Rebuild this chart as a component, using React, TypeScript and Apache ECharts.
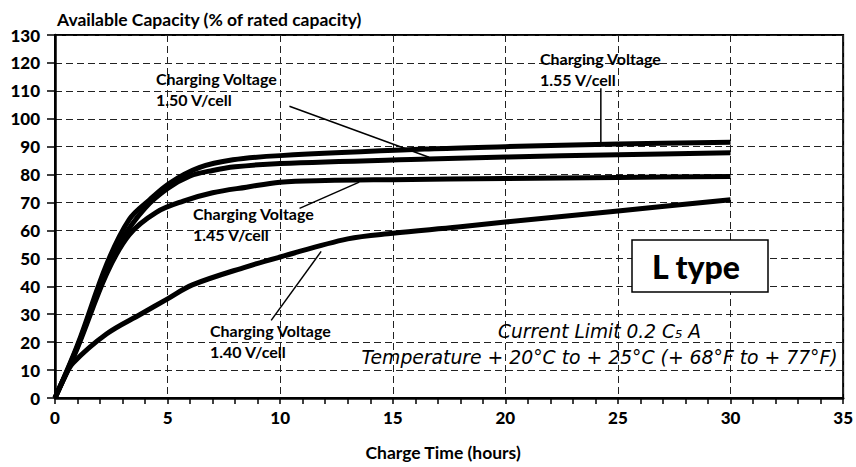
import React, { useEffect, useRef } from "react";
import * as echarts from "echarts";

// Charge time (hours) vs available capacity (% of rated)
const v155: number[][] = [
  [0, 0], [1, 19], [2.3, 48], [3.3, 64], [4.2, 71], [5.1, 77],
  [6.4, 82.5], [7.9, 85.3], [10, 86.8], [16.6, 89.2], [20, 90], [25, 91], [30, 91.6],
];
const v150: number[][] = [
  [0, 0], [1, 18.5], [2, 40], [3, 57], [4, 68], [5, 75], [6, 79.5], [7, 81.5], [8, 82.8],
  [10, 84], [16.6, 85.6], [20, 86.3], [25, 87.1], [30, 87.8],
];
const v145: number[][] = [
  [0, 0], [1, 18], [2.3, 44.6], [3.3, 58.5], [4.5, 66.5],
  [5.7, 70.5], [7, 73.5], [8.5, 75.5], [10, 77.3], [12, 77.9], [15, 78.2], [20, 78.6],
  [25, 79], [30, 79.3],
];
const v140: number[][] = [
  [0, 0], [0.4, 7], [0.8, 12.5], [2.3, 23], [3.8, 30], [5, 35.5],
  [6.1, 40.5], [8.5, 47], [10, 50.5], [13, 57], [15, 59],
  [17.9, 61.2], [20, 63], [25, 67], [30, 71],
];

// leader lines (data coordinates)
const lead150: number[][] = [[10.41, 104.5], [16.61, 86.2]];
const lead155: number[][] = [[24.24, 110.9], [24.24, 91.2]];
const lead145: number[][] = [[10.86, 67.9], [13.51, 77.3]];
const lead140: number[][] = [[9.6, 27.8], [11.82, 52.5]];

const labels = {
  y: "Available Capacity (% of rated capacity)",
  x: "Charge Time (hours)",
  a155: "Charging Voltage\n1.55 V/cell",
  a150: "Charging Voltage\n1.50 V/cell",
  a145: "Charging Voltage\n1.45 V/cell",
  a140: "Charging Voltage\n1.40 V/cell",
  type: "L type",
  current: "Current Limit 0.2 C₅ A",
  temp: "Temperature + 20°C to + 25°C (+ 68°F to + 77°F)",
};

const FONT = "Lato";
const IFONT = "DejaVu Sans";

export default function App() {
  const ref = useRef<HTMLDivElement>(null);
  useEffect(() => {
    document.body.style.margin = "0";
    const chart = echarts.init(ref.current!, null, { renderer: "svg" });
    const curve = (name: string, data: number[][]) => ({
      type: "line",
      name,
      data,
      showSymbol: false,
      smooth: 0.35,
      silent: true,
      z: 3,
      lineStyle: { color: "#000", width: 5, join: "round" },
    });
    const leader = (data: number[][]) => ({
      type: "line",
      data,
      showSymbol: false,
      silent: true,
      z: 4,
      lineStyle: { color: "#000", width: 1.5 },
    });
    const annot = (text: string, left: number, top: number) => ({
      type: "text",
      left,
      top,
      z: 10,
      style: {
        text,
        fill: "#000",
        font: `bold 16px ${FONT}`,
        lineHeight: 21,
      },
    });
    chart.setOption({
      animation: false,
      backgroundColor: "#fff",
      grid: {
        left: 55,
        right: 11,
        top: 35,
        bottom: 69,
        show: true,
        borderColor: "#000",
        borderWidth: 2,
      },
      xAxis: {
        type: "value",
        min: 0,
        max: 35,
        interval: 5,
        axisLine: { show: true, onZero: false, lineStyle: { color: "#000", width: 2.5 } },
        axisTick: { show: true, length: 6, lineStyle: { color: "#000", width: 1.5 } },
        minorTick: { show: true, splitNumber: 5, length: 6, lineStyle: { color: "#000", width: 1.5 } },
        axisLabel: { color: "#000", fontFamily: FONT, fontWeight: 900, fontSize: 17, margin: 11 },
        splitLine: { show: true, lineStyle: { color: "#222", width: 1, type: [7, 4] } },
        name: labels.x,
        nameLocation: "middle",
        nameGap: 45,
        nameTextStyle: { color: "#000", fontFamily: FONT, fontWeight: "bold", fontSize: 17.5, padding: [0, 12, 0, 0] },
      },
      yAxis: {
        type: "value",
        min: 0,
        max: 130,
        interval: 10,
        axisLine: { show: true, lineStyle: { color: "#000", width: 2.5 } },
        axisTick: { show: true, length: 8, lineStyle: { color: "#000", width: 1.5 } },
        axisLabel: { color: "#000", fontFamily: FONT, fontWeight: 900, fontSize: 17, margin: 15 },
        splitLine: { show: true, lineStyle: { color: "#222", width: 1, type: [7, 4] } },
      },
      series: [
        curve("1.55 V/cell", v155),
        curve("1.50 V/cell", v150),
        curve("1.45 V/cell", v145),
        curve("1.40 V/cell", v140),
        leader(lead150),
        leader(lead155),
        leader(lead145),
        leader(lead140),
      ],
      graphic: [
        {
          type: "text",
          left: 57,
          top: 10,
          style: { text: labels.y, fill: "#000", font: `bold 17.5px ${FONT}` },
        },
        annot(labels.a150, 156, 68),
        annot(labels.a155, 540, 48),
        annot(labels.a145, 193, 203),
        annot(labels.a140, 210, 320),
        {
          type: "rect",
          z: 10,
          shape: { x: 632, y: 240, width: 136, height: 52 },
          style: { fill: "#fff", stroke: "#000", lineWidth: 1.5 },
        },
        {
          type: "text",
          z: 11,
          x: 696,
          y: 266,
          style: {
            text: labels.type,
            fill: "#000",
            font: `900 32px ${FONT}`,
            align: "center",
            verticalAlign: "middle",
          },
        },
        {
          type: "text",
          z: 10,
          x: 599.5,
          y: 331,
          style: {
            text: labels.current,
            fill: "#000",
            font: `italic 18.6px ${IFONT}`,
            align: "center",
            verticalAlign: "middle",
          },
        },
        {
          type: "text",
          z: 10,
          x: 599.5,
          y: 357,
          style: {
            text: labels.temp,
            fill: "#000",
            font: `italic 18.8px ${IFONT}`,
            align: "center",
            verticalAlign: "middle",
          },
        },
      ],
    });
    return () => chart.dispose();
  }, []);
  return <div ref={ref} style={{ width: 856, height: 467 }} />;
}
